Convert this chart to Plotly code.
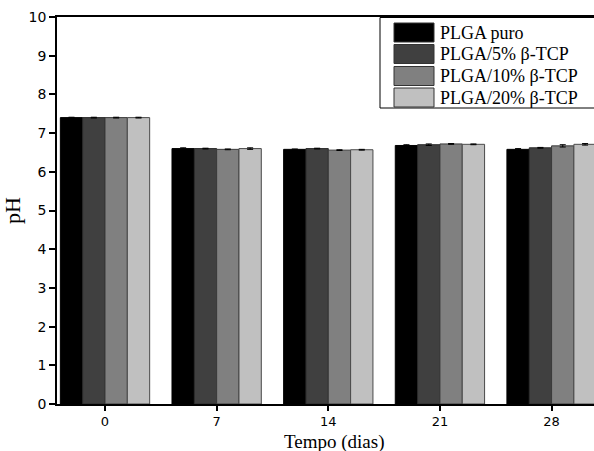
import plotly.graph_objects as go

# Sampling times (days) and mean pH per formulation
tempo = ["0", "7", "14", "21", "28"]
series_names = ["PLGA puro", "PLGA/5% β-TCP", "PLGA/10% β-TCP", "PLGA/20% β-TCP"]
ph_puro = [7.40, 6.60, 6.58, 6.68, 6.58]
ph_5 = [7.40, 6.60, 6.60, 6.70, 6.62]
ph_10 = [7.40, 6.58, 6.56, 6.72, 6.67]
ph_20 = [7.40, 6.60, 6.57, 6.71, 6.71]
err_puro = [0.01, 0.02, 0.01, 0.02, 0.02]
err_5 = [0.01, 0.01, 0.01, 0.02, 0.01]
err_10 = [0.01, 0.01, 0.01, 0.01, 0.03]
err_20 = [0.01, 0.02, 0.01, 0.01, 0.02]

fills = ["#000000", "#404040", "#808080", "#c0c0c0"]
edges = ["#000000", "#2a2a2a", "#3a3a3a", "#4a4a4a"]

W, H = 594, 451
L, T, B = 57, 17, 47
x_left, x_right = L, W
y_top, y_bot = T, H - B

fig = go.Figure()
for name, vals, errs, fc, ec in zip(series_names, [ph_puro, ph_5, ph_10, ph_20],
                                    [err_puro, err_5, err_10, err_20], fills, edges):
    fig.add_trace(go.Bar(
        x=tempo, y=vals, name=name,
        marker=dict(color=fc, line=dict(color=ec, width=1)),
        error_y=dict(type="data", array=errs, color="#000000", thickness=1, width=3),
        showlegend=False,
    ))

serif = "Liberation Serif, Times New Roman, serif"
sans = "DejaVu Sans, Verdana, sans-serif"


def px_x(px):
    return (px - x_left) / (x_right - x_left)


def px_y(py):
    return (y_bot - py) / (y_bot - y_top)


# Legend drawn as a framed box with large swatches
shapes = [dict(type="rect", xref="paper", yref="paper",
               x0=px_x(380), x1=px_x(640), y0=px_y(108), y1=px_y(17.5),
               line=dict(color="#000000", width=1), fillcolor="#ffffff", layer="above")]
annotations = []
row_centers = [32.5, 54, 76, 97.5]
for name, fc, yc in zip(series_names, fills, row_centers):
    shapes.append(dict(type="rect", xref="paper", yref="paper",
                       x0=px_x(394), x1=px_x(434), y0=px_y(yc + 9.5), y1=px_y(yc - 9.5),
                       line=dict(color="#333333", width=1), fillcolor=fc, layer="above"))
    annotations.append(dict(xref="paper", yref="paper", x=px_x(438), y=px_y(yc),
                            xanchor="left", yanchor="middle", showarrow=False,
                            text=name, font=dict(family=serif, size=18, color="#000000")))

annotations.append(dict(xref="paper", yref="paper", x=px_x(334.5), y=px_y(441.5),
                        xanchor="center", yanchor="middle", showarrow=False,
                        text="Tempo (dias)", font=dict(family=serif, size=19, color="#000000")))

fig.update_layout(
    width=W, height=H,
    margin=dict(l=L, r=0, t=T, b=B),
    paper_bgcolor="#ffffff", plot_bgcolor="#ffffff",
    barmode="group", bargap=0.2, bargroupgap=0,
    shapes=shapes, annotations=annotations,
    xaxis=dict(
        type="category", range=[-0.43, 4.38],
        showline=True, linecolor="#000000", linewidth=1.5, mirror=True,
        ticks="outside", ticklen=5, tickwidth=1.5, tickcolor="#000000",
        showgrid=False, zeroline=False,
        tickfont=dict(family=sans, size=13, color="#000000"),
    ),
    yaxis=dict(
        range=[0, 10], dtick=1,
        showline=True, linecolor="#000000", linewidth=1.5,
        ticks="outside", ticklen=6, tickwidth=1.5, tickcolor="#000000",
        showgrid=False, zeroline=False,
        tickfont=dict(family=sans, size=14, color="#000000"),
        title=dict(text="pH", font=dict(family=serif, size=22, color="#000000"), standoff=8),
    ),
)

fig.write_html("out.html")
